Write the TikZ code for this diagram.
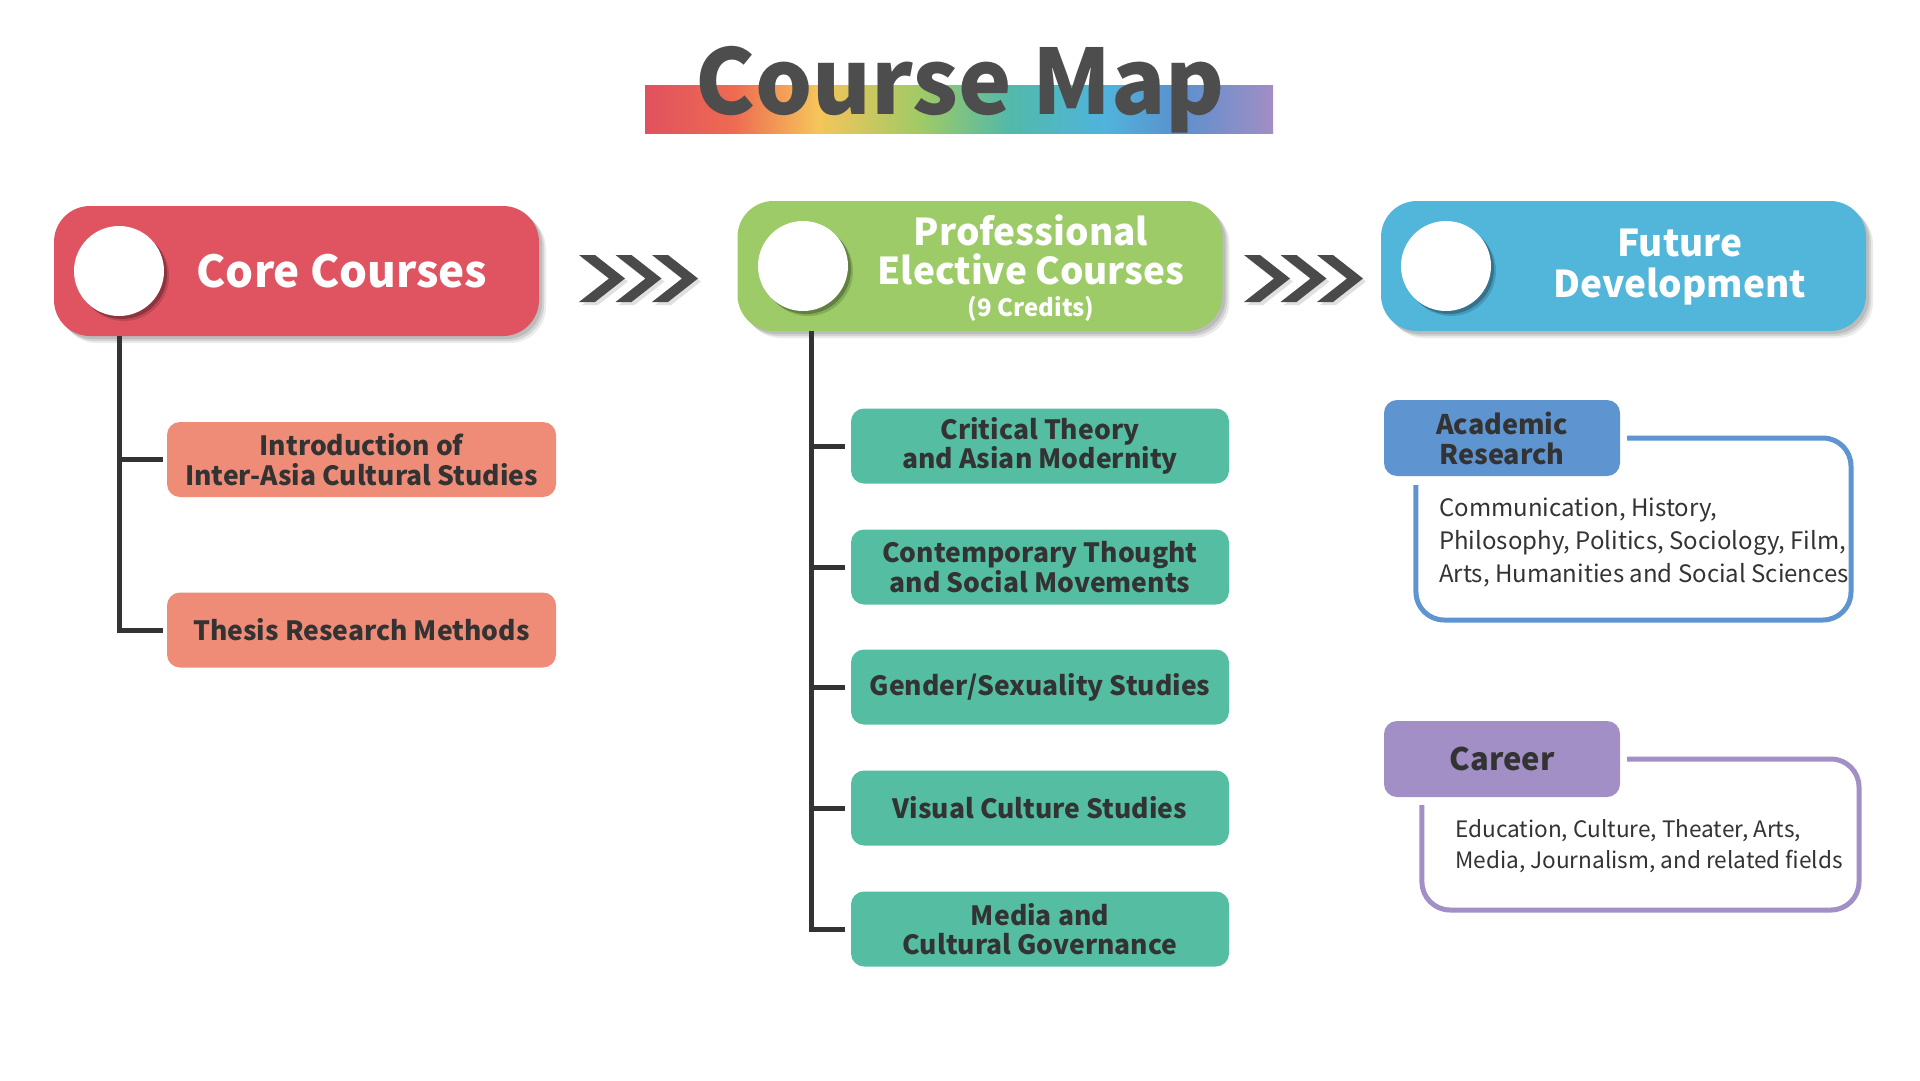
\documentclass[tikz,border=0pt]{standalone}
\usepackage{fontspec}
\setmainfont{Noto Sans CJK SC}
\usepackage{xcolor}
\usetikzlibrary{shadows, positioning}
\definecolor{coreRed}{HTML}{E05462}
\definecolor{electGreen}{HTML}{9CCB68}
\definecolor{futureBlue}{HTML}{52B6DB}
\definecolor{coreBox}{HTML}{EE8C78}
\definecolor{electBox}{HTML}{55BDA1}
\definecolor{acadBlue}{HTML}{5E94CF}
\definecolor{careerPurple}{HTML}{A18FC5}
\definecolor{treeGray}{HTML}{333333}
\definecolor{textDark}{HTML}{333333}
\definecolor{titleGray}{HTML}{4D4D4D}
\definecolor{chevGray}{HTML}{4A4A4A}
\definecolor{barRed}{HTML}{E0515F}
\definecolor{barOrange}{HTML}{EE6A52}
\definecolor{barYellow}{HTML}{F5C55A}
\definecolor{barGreen}{HTML}{9FCA66}
\definecolor{barTeal}{HTML}{52B9A9}
\definecolor{barSky}{HTML}{50B4DC}
\definecolor{barBlue}{HTML}{5B90CE}
\definecolor{barPurple}{HTML}{A28EC4}
\pgfdeclarehorizontalshading{rainbow}{100bp}{color(0bp)=(barRed); color(25bp)=(barRed); color(32bp)=(barOrange); color(38.8bp)=(barYellow); color(47bp)=(barGreen); color(54bp)=(barTeal); color(61.5bp)=(barSky); color(67.5bp)=(barBlue); color(75bp)=(barPurple); color(100bp)=(barPurple)}
\tikzset{
  hshadow/.style={general shadow={fill=black, opacity=0.10, shadow xshift=3pt, shadow yshift=-3pt}, general shadow={fill=black, opacity=0.10, shadow xshift=5pt, shadow yshift=-5pt}, general shadow={fill=black, opacity=0.08, shadow xshift=7pt, shadow yshift=-7pt}},
  header/.style={rectangle, rounded corners=36pt, minimum width=485pt, minimum height=130pt, inner sep=0pt, hshadow},
  dot/.style={circle, fill=white, minimum size=90pt, inner sep=0pt, general shadow={fill=black, opacity=0.25, shadow xshift=3pt, shadow yshift=-3pt}, general shadow={fill=black, opacity=0.15, shadow xshift=5pt, shadow yshift=-5pt}},
  headtext/.style={text=white, align=center, inner sep=0pt, font=\bfseries\fontsize{37}{39}\selectfont},
  course/.style={rectangle, rounded corners=13pt, minimum width=389pt, minimum height=75pt, inner sep=0pt, text=textDark, align=center, font=\bfseries\fontsize{26.5}{29.5}\selectfont},
  tag/.style={rectangle, rounded corners=13pt, minimum width=236pt, minimum height=76pt, inner sep=0pt, text=textDark, align=center, font=\bfseries\fontsize{27}{30}\selectfont},
  branch/.style={draw=treeGray, line width=5pt, shorten >=4pt},
  frame/.style={line width=5pt, rounded corners=28pt},
  fieldtext/.style={anchor=west, align=left, inner sep=0pt, text=textDark, font=\fontsize{24}{33}\selectfont},
  chevron/.style={fill=chevGray, general shadow={fill=black, opacity=0.12, shadow xshift=3pt, shadow yshift=-3pt}},
}
\begin{document}
\begin{tikzpicture}[x=1pt, y=-1pt]
  \useasboundingbox[fill=white] (0,0) rectangle (1920,1081);

  % Title
  \shade[shading=rainbow] (645,86) rectangle (1273,133);
  \node[anchor=base, inner sep=0pt, text=titleGray, font=\bfseries\fontsize{90}{90}\selectfont] (title) at (960,114) {Course Map};

  % Header pills
  \node[header, fill=coreRed] (core) at (296.5,271) {};
  \node[dot] (coreDot) at (119,271) {};
  \node[headtext, font=\bfseries\fontsize{44}{44}\selectfont] (coreText) at (342,271) {Core Courses};

  \node[header, fill=electGreen] (elect) at (980,266) {};
  \node[dot] (electDot) at (803,266) {};
  \node[headtext] (electText) at (1031,268) {Professional\\Elective Courses\\[-7pt]{\fontsize{24}{24}\selectfont (9 Credits)}};

  \node[header, fill=futureBlue] (future) at (1623.5,266) {};
  \node[dot] (futureDot) at (1446,266) {};
  \node[headtext, font=\bfseries\fontsize{37}{41}\selectfont] (futureText) at (1680,267) {Future\\Development};

  % Chevrons between pills
  \foreach \cx/\cy in {579/278.5, 615.5/278.5, 652/278.5, 1244/278.5, 1280.5/278.5, 1317/278.5}
    \fill[chevron] (\cx,\cy-23.5) -- ++(16,0) -- ++(30,23.5) -- ++(-30,23.5) -- ++(-16,0) -- ++(30,-23.5) -- cycle;

  % Core courses
  \node[course, fill=coreBox] (intro) at (361.5,459.5) {Introduction of\\Inter-Asia Cultural Studies};
  \node[course, fill=coreBox] (thesis) at (361.5,630) {Thesis Research Methods};
  \draw[branch] (coreDot |- core.south) |- (intro.west);
  \draw[branch] (coreDot |- core.south) |- (thesis.west);

  % Elective courses
  \node[course, fill=electBox, minimum width=378pt] (critical) at (1040,446) {Critical Theory\\and Asian Modernity};
  \node[course, fill=electBox, minimum width=378pt] (contemp) at (1040,567) {Contemporary Thought\\and Social Movements};
  \node[course, fill=electBox, minimum width=378pt] (gender) at (1040,687) {Gender/Sexuality Studies};
  \node[course, fill=electBox, minimum width=378pt] (visual) at (1040,808) {Visual Culture Studies};
  \node[course, fill=electBox, minimum width=378pt] (media) at (1040,929) {Media and\\Cultural Governance};
  \foreach \c in {critical, contemp, gender, visual, media}
    \draw[branch, shorten >=6pt] ([xshift=8pt]electDot |- elect.south) |- (\c.west);

  % Future development
  \node[tag, fill=acadBlue] (acad) at (1502,438) {Academic\\Research};
  \draw[frame, draw=acadBlue] ([xshift=7pt]acad.east) -- (1851,438) -- (1851,620) -- (1416,620) -- ([xshift=32pt, yshift=-9pt]acad.south west);
  \node[fieldtext] (acadFields) at (1439,542) {Communication, History,\\Philosophy, Politics, Sociology, Film,\\Arts, Humanities and Social Sciences};

  \node[tag, fill=careerPurple, font=\bfseries\fontsize{31}{31}\selectfont] (career) at (1502,759) {Career};
  \draw[frame, draw=careerPurple] ([xshift=7pt]career.east) -- (1859,759) -- (1859,910) -- (1422,910) -- ([xshift=38pt, yshift=-8pt]career.south west);
  \node[fieldtext, font=\fontsize{22.6}{31}\selectfont] (careerFields) at (1455,846.5) {Education, Culture, Theater, Arts,\\Media, Journalism, and related fields};
\end{tikzpicture}
\end{document}
